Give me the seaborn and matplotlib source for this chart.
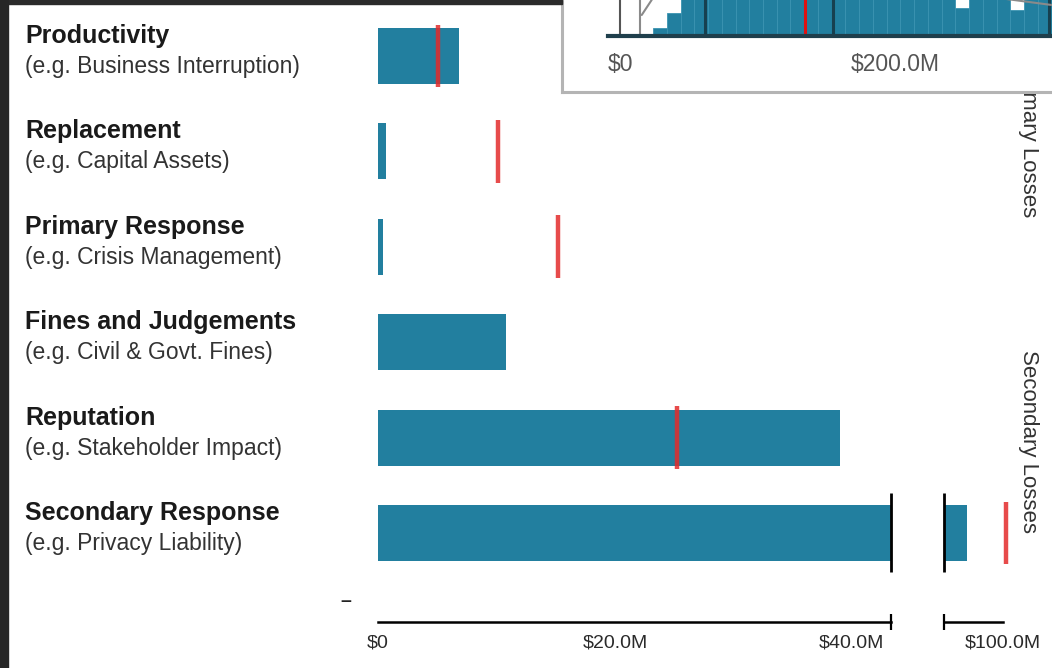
import numpy as np
import pandas as pd
import seaborn as sns
from matplotlib import pyplot as plt
from matplotlib.patches import Rectangle
from matplotlib.transforms import blended_transform_factory

sns.set_style("white")
plt.rcParams["font.family"] = ["Liberation Sans", "DejaVu Sans"]

TEAL = "#227f9f"
RED = "#e32b2b"

# loss categories (rows, top to bottom)
categories = ["Productivity", "Replacement", "Primary Response",
              "Fines and Judgements", "Reputation", "Secondary Response"]
examples = ["(e.g. Business Interruption)", "(e.g. Capital Assets)",
            "(e.g. Crisis Management)", "(e.g. Civil & Govt. Fines)",
            "(e.g. Stakeholder Impact)", "(e.g. Privacy Liability)"]
loss_m = [6.84, 0.68, 0.42, 10.8, 39.0, 96.9]          # bar length, $M
marker_m = [5.06, 10.1, 15.2, np.nan, 25.2, 100.2]     # red marker, $M

left_ticks = [0, 20, 40]
left_labels = ["$0", "$20.0M", "$40.0M"]
right_ticks = [100]
right_labels = ["$100.0M"]
break_left = 43.3
break_right = 95.0
right_max = 100.74

groups = ["Primary Losses", "Secondary Losses"]
group_rows = [0.89, 4.04]

# inset: distribution of total loss
hist_bins = [24, 34, 44, 54, 64, 74, 84, 94, 104, 114, 124, 134, 144, 154, 164,
             174, 184, 194, 204, 214, 224, 234, 244, 254, 264, 274, 284, 294, 304, 314]
hist_heights = [8, 23, 70, 95, 100, 100, 98, 96, 92, 90, 86, 84, 80, 76, 72,
                68, 64, 60, 56, 52, 48, 45, 28, 42, 40, 39, 26, 38, 37]
inset_dark_m = [61.8, 154.9, 312.0]
inset_red_m = 134.5
inset_grey_m = 14.5
curve_x = [15.8, 23.0, 45, 200, 281, 314]
curve_y = [21, 36, 110, 110, 37, 31]
inset_ticks = [0, 200]
inset_labels = ["$0", "$200.0M"]

df = pd.DataFrame({"category": categories, "loss": loss_m})
rows = np.arange(len(categories))

W, H = 1052, 668
fig = plt.figure(figsize=(W / 100, H / 100), dpi=100)

# main broken axis
ax1 = fig.add_axes([378 / W, 1 - 622 / H, (891 - 378) / W, 622 / H])
ax2 = fig.add_axes([944 / W, 1 - 622 / H, 68 / W, 622 / H], sharey=ax1)

for ax, lo, hi in [(ax1, 0, break_left), (ax2, break_right, right_max)]:
    sns.barplot(data=df, x="loss", y="category", ax=ax, color=TEAL,
                saturation=1, width=0.587, orient="h", linewidth=0)
    ok = ~np.isnan(marker_m)
    ax.vlines(np.array(marker_m)[ok], rows[ok] - 0.33, rows[ok] + 0.33,
              color=RED, lw=3.2, alpha=0.85, zorder=4)
    ax.set_xlim(lo, hi)
    ax.set_ylabel("")
    ax.set_xlabel("")
    ax.set_yticks([])
    for s in ["left", "top", "right"]:
        ax.spines[s].set_visible(False)
    ax.spines["bottom"].set_color("black")
    ax.spines["bottom"].set_linewidth(1.8)
    ax.tick_params(axis="x", which="both", bottom=True)
    ax.tick_params(axis="x", which="major", length=0, pad=9,
                   labelsize=14, labelcolor="#2a2a2a")
    ax.tick_params(axis="x", which="minor", direction="inout", length=11.5,
                   width=1.6, color="black")

ax1.set_ylim(5.933, -0.587)
ax1.set_xticks(left_ticks, left_labels)
ax1.set_xticks([break_left], minor=True)
ax2.set_xticks(right_ticks, right_labels)
ax2.set_xticks([break_right], minor=True)
ax2.spines["bottom"].set_bounds(break_right, 100)

# break markers on the long bar
last = rows[-1]
ax1.vlines([break_left], last - 0.414, last + 0.414, color="black", lw=2, clip_on=False, zorder=5)
ax2.vlines([break_right], last - 0.414, last + 0.414, color="black", lw=2, clip_on=False, zorder=5)

# row labels
tr = blended_transform_factory(fig.transFigure, ax1.transData)
for i, (cat, ex) in enumerate(zip(categories, examples)):
    fig.text(25 / W, i - 0.21, cat, transform=tr, fontsize=18, fontweight="bold",
             color="#1a1a1a", va="center", ha="left")
    fig.text(25 / W, i + 0.11, ex, transform=tr, fontsize=16.5,
             color="#333333", va="center", ha="left")

# group labels at the right
tr2 = blended_transform_factory(fig.transFigure, ax2.transData)
for g, r in zip(groups, group_rows):
    fig.text(1029 / W, r, g, transform=tr2, rotation=-90, fontsize=16,
             color="#333333", va="center", ha="center")

fig.text(346 / W, 1 - 602 / H, "\u2013", fontsize=14, fontweight="bold",
         color="#222222", va="center", ha="center")

# inset box with the total-loss histogram
box = fig.add_axes([562 / W, 1 - 92 / H, 600 / W, 150 / H], zorder=10)
box.set_facecolor("white")
box.set_xticks([])
box.set_yticks([])
for s in box.spines.values():
    s.set_color("#b4b4b4")
    s.set_linewidth(2.2)

axh = fig.add_axes([600 / W, 1 - 36 / H, 500 / W, 100 / H], zorder=11)
axh.patch.set_alpha(0)
sns.histplot(x=hist_bins[:-1], weights=hist_heights, bins=hist_bins, ax=axh,
             color=TEAL, alpha=1, edgecolor="#3b93b1", linewidth=0.6)
axh.axvline(inset_grey_m, color="#8a8a8a", lw=1.5)
for v in inset_dark_m:
    axh.axvline(v, color="#17404f", lw=2.2)
axh.axvline(inset_red_m, color="#e01010", lw=2.2)
axh.plot(curve_x, curve_y, color="#8a8a8a", lw=1.5)
axh.set_xlim(-14.55, 349.1)
axh.set_ylim(0, 100)
axh.set_ylabel("")
axh.set_yticks([])
axh.set_xticks(inset_ticks, inset_labels)
axh.set_xticks([0], minor=True)
axh.tick_params(axis="x", which="both", bottom=True)
axh.tick_params(axis="x", which="major", length=0, pad=12, labelsize=16.5,
                labelcolor="#555555")
axh.tick_params(axis="x", which="minor", direction="out", length=6, width=1.5,
                color="#555555")
for s in ["top", "right"]:
    axh.spines[s].set_visible(False)
axh.spines["left"].set_position(("data", 0))
axh.spines["left"].set_color("#555555")
axh.spines["left"].set_linewidth(1.5)
axh.spines["bottom"].set_color("#1f3f4c")
axh.spines["bottom"].set_linewidth(3)
axh.spines["bottom"].set_bounds(-8.7, 349)

# dark screenshot frame at top and left
fig.patches.append(Rectangle((0, 1 - 4 / H), 562 / W, 4 / H, transform=fig.transFigure,
                             color="#2b2b2b", zorder=20))
fig.patches.append(Rectangle((0, 0), 8 / W, 1, transform=fig.transFigure,
                             color="#262626", zorder=20))

fig.savefig("out.png", dpi=100)
plt.close(fig)
